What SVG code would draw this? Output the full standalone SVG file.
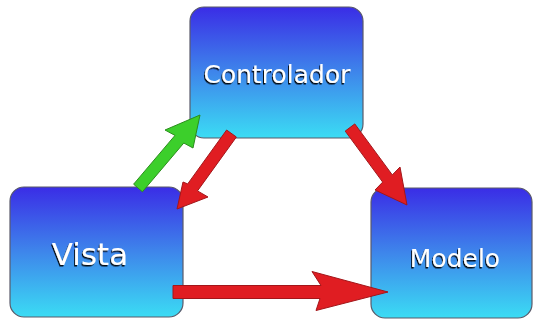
<svg xmlns="http://www.w3.org/2000/svg" width="535" height="322" viewBox="0 0 535 322">
<defs>
<linearGradient id="boxg" x1="0" y1="0" x2="0" y2="1">
<stop offset="0" stop-color="#3a2de6"/>
<stop offset="0.5" stop-color="#3e86eb"/>
<stop offset="1" stop-color="#3bdcf4"/>
</linearGradient>
<filter id="ts" x="-10%" y="-30%" width="120%" height="160%">
<feDropShadow dx="-1" dy="1.5" stdDeviation="0.4" flood-color="#000" flood-opacity="0.9"/>
</filter>
</defs>
<style>
.box{fill:url(#boxg);stroke:#5a5a6a;stroke-width:1.2}
.lbl{font-family:"DejaVu Sans",Verdana,sans-serif;fill:#ffffff;text-anchor:middle;filter:url(#ts)}
.red{fill:#e01d22;stroke:#a3161a;stroke-width:1}
.green{fill:#3ccf2b;stroke:#2a8e1c;stroke-width:1}
</style>
<rect width="535" height="322" fill="#ffffff"/>
<g id="controlador">
<rect class="box" x="190" y="7" width="173" height="131" rx="14" ry="14"/>
<text class="lbl" x="277" y="83" font-size="25">Controlador</text>
</g>
<g id="vista">
<rect class="box" x="10" y="187" width="173" height="130" rx="14" ry="14"/>
<text class="lbl" x="90" y="265" font-size="31">Vista</text>
</g>
<g id="modelo">
<rect class="box" x="371" y="188" width="161" height="130" rx="14" ry="14"/>
<text class="lbl" x="455" y="267" font-size="25">Modelo</text>
</g>
<g id="connectors">
<polygon class="green" points="133.6,184.2 175,135.4 165,130 200,115 193,148 183.8,143 142.4,191.8"/>
<polygon class="red" points="226.6,130 187.7,183.9 183,182 177,209 208,197 197.5,190.9 236.4,137"/>
<polygon class="red" points="345.2,131.1 382.7,182.1 375,190 407,205 400,167 392.3,174.9 354.8,123.9"/>
<polygon class="red" points="173,285.5 321,285.5 312,271.5 388,292 316,310.5 320,298.5 173,298.5"/>
</g>
</svg>
